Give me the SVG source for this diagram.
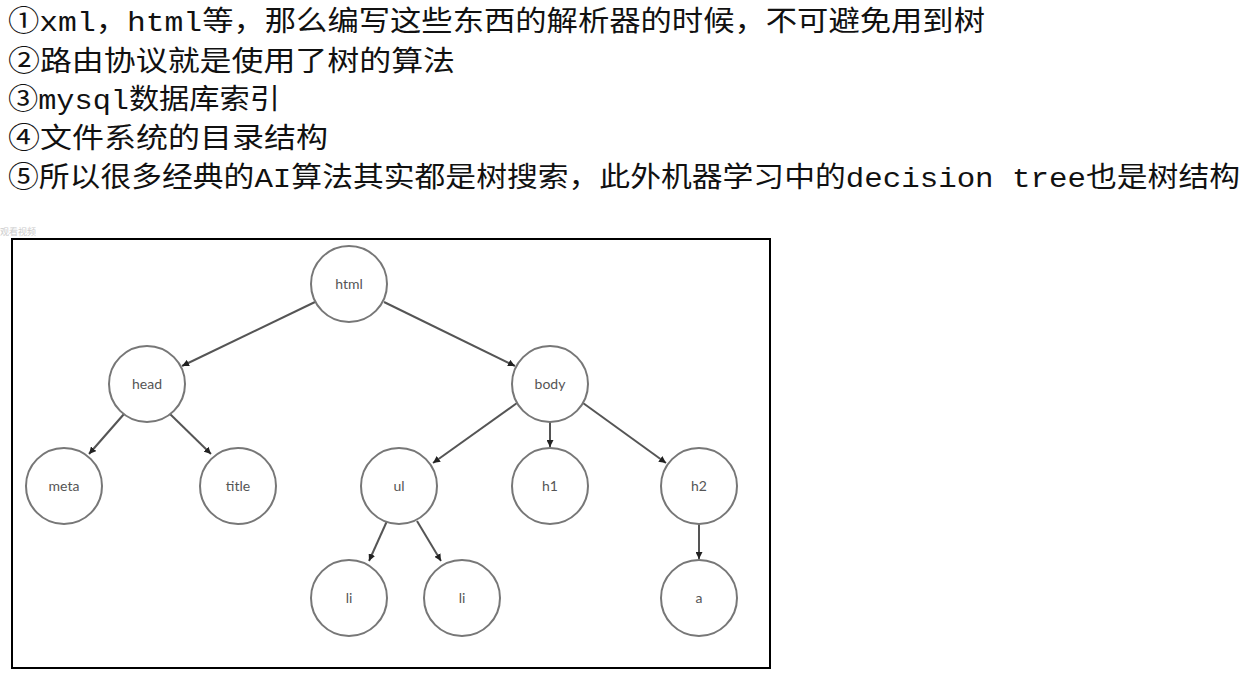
<svg xmlns="http://www.w3.org/2000/svg" width="1247" height="676" viewBox="0 0 1247 676">
<style>
.t{font-family:"Liberation Mono","Noto Sans CJK SC",monospace;font-size:28px;fill:#111}
.n circle{fill:#fff;stroke:#777;stroke-width:2}
.n text{font-family:Lato,"Liberation Sans",sans-serif;font-size:14px;fill:#555;text-anchor:middle}
.e line{stroke:#555;stroke-width:2;marker-end:url(#a)}
</style>
<defs><marker id="a" viewBox="0 0 10 10" refX="10" refY="5" markerWidth="7" markerHeight="7" orient="auto" markerUnits="userSpaceOnUse"><path d="M0,0L10,5L0,10z" fill="#222"/></marker></defs>
<rect width="1247" height="676" fill="#fff"/>
<text class="t" x="8" y="31" textLength="977" lengthAdjust="spacingAndGlyphs">①xml，html等，那么编写这些东西的解析器的时候，不可避免用到树</text>
<text class="t" x="8" y="71" textLength="447" lengthAdjust="spacingAndGlyphs">②路由协议就是使用了树的算法</text>
<text class="t" x="8" y="109" textLength="272" lengthAdjust="spacingAndGlyphs">③mysql数据库索引</text>
<text class="t" x="8" y="148" textLength="320" lengthAdjust="spacingAndGlyphs">④文件系统的目录结构</text>
<text class="t" x="8" y="187" textLength="1232" lengthAdjust="spacingAndGlyphs">⑤所以很多经典的AI算法其实都是树搜索，此外机器学习中的decision tree也是树结构</text>
<text x="0" y="235" font-family="Noto Sans CJK SC,sans-serif" font-size="9" fill="#ccc">观看视频</text>
<rect x="12" y="239" width="758" height="429" fill="none" stroke="#000" stroke-width="2"/>
<g class="e">
<line x1="315" y1="302" x2="182" y2="366"/>
<line x1="384" y1="302" x2="515" y2="366"/>
<line x1="124" y1="414" x2="89" y2="454"/>
<line x1="170" y1="414" x2="211" y2="454"/>
<line x1="517" y1="403" x2="433" y2="463"/>
<line x1="550" y1="422" x2="550" y2="447"/>
<line x1="583" y1="403" x2="666" y2="463"/>
<line x1="387" y1="521" x2="369" y2="561"/>
<line x1="417" y1="521" x2="441" y2="561"/>
<line x1="699" y1="524" x2="699" y2="559"/>
</g>
<g id="html" class="n"><circle cx="349" cy="284" r="38"/><text x="349" y="289">html</text></g>
<g id="head" class="n"><circle cx="147" cy="384" r="38"/><text x="147" y="389">head</text></g>
<g id="body" class="n"><circle cx="550" cy="384" r="38"/><text x="550" y="389">body</text></g>
<g id="meta" class="n"><circle cx="64" cy="486" r="38"/><text x="64" y="491">meta</text></g>
<g id="title" class="n"><circle cx="238" cy="486" r="38"/><text x="238" y="491">title</text></g>
<g id="ul" class="n"><circle cx="399" cy="486" r="38"/><text x="399" y="491">ul</text></g>
<g id="h1" class="n"><circle cx="550" cy="486" r="38"/><text x="550" y="491">h1</text></g>
<g id="h2" class="n"><circle cx="699" cy="486" r="38"/><text x="699" y="491">h2</text></g>
<g id="li1" class="n"><circle cx="349" cy="598" r="38"/><text x="349" y="603">li</text></g>
<g id="li2" class="n"><circle cx="462" cy="598" r="38"/><text x="462" y="603">li</text></g>
<g id="a" class="n"><circle cx="699" cy="598" r="38"/><text x="699" y="603">a</text></g>
</svg>
